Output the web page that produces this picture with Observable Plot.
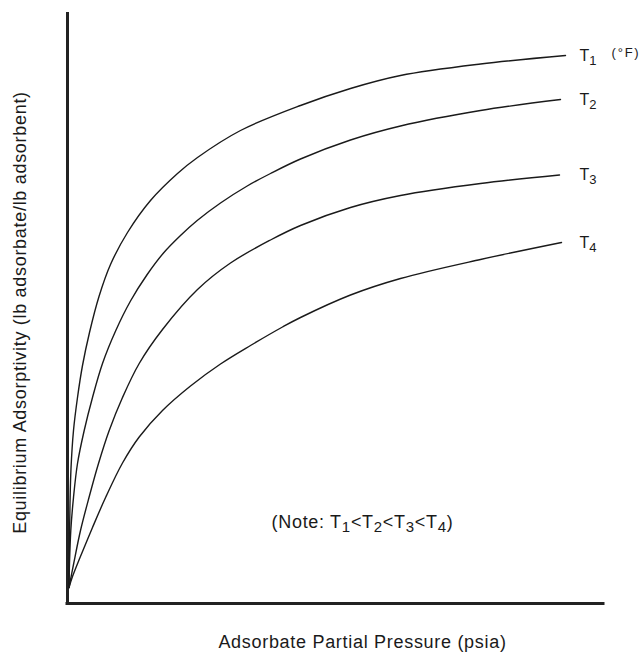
<!DOCTYPE html>
<html>
<head>
<meta charset="utf-8">
<script src="https://cdn.jsdelivr.net/npm/d3@7"></script>
<script src="https://cdn.jsdelivr.net/npm/@observablehq/plot@0.6"></script>
<style>
  html, body { margin: 0; padding: 0; background: #fff; }
  #chart svg { display: block; }
</style>
</head>
<body>
<div id="chart"></div>
<script>
// ---- data (arbitrary relative units) ----
const seriesLabels = ["T_1", "T_2", "T_3", "T_4"];

const pressureT1 = [0.3, 0.38, 0.5, 0.7, 1.2, 2, 3, 4.4, 6.3, 8.6, 12, 16.6, 22, 26, 34.6, 46.6, 56.6, 66.6, 82.6, 99.6];
const adsorpT1   = [3.2, 12, 20, 27, 34.6, 41.2, 47.6, 54.2, 61.4, 67.8, 74.2, 80.6, 86, 89.2, 94.6, 99.6, 103, 105.6, 107.9, 109.6];

const pressureT2 = [0.3, 0.4, 0.66, 1.2, 2, 3.34, 5, 7, 9.66, 12.6, 15.94, 19.2, 22.6, 25.94, 30.6, 35.94, 40.6, 46.6, 56.6, 66.6, 82.6, 98.6];
const adsorpT2   = [3.2, 8, 14.6, 21.2, 28, 34.6, 41.2, 48, 54.6, 60.5, 65.8, 70.1, 73.6, 76.6, 80.1, 83.5, 86, 88.9, 92.7, 95.5, 98.6, 100.8];

const pressureT3 = [0.3, 1.24, 2.6, 4.3, 6.2, 8.34, 11, 14.34, 19, 26, 32.6, 40.6, 46.6, 56.6, 66.6, 82.6, 98.4];
const adsorpT3   = [3.2, 8, 14.6, 21.2, 28, 34.6, 41.2, 48, 54.8, 62.8, 68.1, 72.7, 75.6, 79.2, 81.6, 84, 85.7];

const pressureT4 = [0.3, 1, 2.34, 5, 7.66, 11, 14.34, 19, 24.6, 30.6, 36.6, 43, 46.6, 56.6, 66.6, 82.6, 98.8];
const adsorpT4   = [3.2, 5.4, 8.8, 15.2, 21.3, 28.1, 33.3, 38.6, 43.5, 47.9, 51.6, 55.3, 57.2, 61.7, 65, 68.8, 72.2];

const xTitle = "Adsorbate Partial Pressure (psia)";
const yTitle = "Equilibrium Adsorptivity (lb adsorbate/lb adsorbent)";
const noteText = "(Note: T_1<T_2<T_3<T_4)";
const unitText = "(°F)";

// ---- build table ----
const pressures = [pressureT1, pressureT2, pressureT3, pressureT4];
const adsorps = [adsorpT1, adsorpT2, adsorpT3, adsorpT4];
const rows = [];
seriesLabels.forEach((s, k) => {
  pressures[k].forEach((p, i) => rows.push({series: s, p, q: adsorps[k][i]}));
});
const ends = seriesLabels.map((s, k) => ({series: s, p: pressures[k][pressures[k].length - 1], q: adsorps[k][adsorps[k].length - 1]}));

const XMAX = 107.2, YMAX = 118.2;
const ink = "#1a1a1a";

const chart = Plot.plot({
  width: 642,
  height: 652,
  marginLeft: 67,
  marginRight: 39,
  marginTop: 12,
  marginBottom: 49,
  x: {domain: [0, XMAX], axis: null},
  y: {domain: [0, YMAX], axis: null},
  style: {fontFamily: "'Liberation Sans', Arial, Helvetica, sans-serif", background: "#fff", color: ink},
  marks: [
    Plot.ruleX([0], {y1: 0, y2: YMAX - 0.3, stroke: "#222", strokeWidth: 3, strokeLinecap: "square"}),
    Plot.ruleY([0], {x1: 0, x2: XMAX, stroke: "#222", strokeWidth: 3, strokeLinecap: "square"}),
    Plot.line(rows, {x: "p", y: "q", z: "series", curve: "catmull-rom", stroke: ink, strokeWidth: 1.4}),
    Plot.text(ends, {x: () => 102.4, y: "q", text: "series", textAnchor: "start", fontSize: 16, fill: ink, className: "tlabel"}),
    Plot.text([unitText], {x: () => 108.8, y: () => 110.1, text: d => d, textAnchor: "start", fontSize: 13, fill: ink, className: "unitlab"}),
    Plot.text([noteText], {x: () => 59, y: () => 16.2, text: d => d, textAnchor: "middle", fontSize: 18, fill: ink, className: "notelab"}),
    Plot.text([xTitle], {x: () => 59, y: () => -7.8, text: d => d, textAnchor: "middle", fontSize: 18, fill: ink, className: "xlab"}),
    Plot.text([yTitle], {x: () => -9.4, y: () => 58.2, text: d => d, rotate: -90, textAnchor: "middle", fontSize: 18, fill: ink, className: "ylab"})
  ]
});

document.getElementById("chart").appendChild(chart);

// ---- subscripts as real tspans ----
function subscriptify(sel, subSize, shift) {
  sel.each(function () {
    const raw = this.textContent;
    if (!raw.includes("_")) return;
    const el = d3.select(this);
    const parts = raw.split("_");
    el.text(null);
    el.append("tspan").text(parts[0]);
    for (let k = 1; k < parts.length; k++) {
      const sub = parts[k].charAt(0), rest = parts[k].slice(1);
      el.append("tspan").attr("dy", shift).attr("font-size", subSize).text(sub);
      if (rest) el.append("tspan").attr("dy", -shift).text(rest);
    }
  });
}
const svg = d3.select(chart);
subscriptify(svg.selectAll(".tlabel text"), 13, 4);
subscriptify(svg.selectAll(".notelab text"), 15, 3.5);
svg.selectAll(".xlab text, .ylab text, .notelab text").style("letter-spacing", "0.7px");
svg.selectAll(".unitlab text").style("letter-spacing", "1.8px");
</script>
</body>
</html>
